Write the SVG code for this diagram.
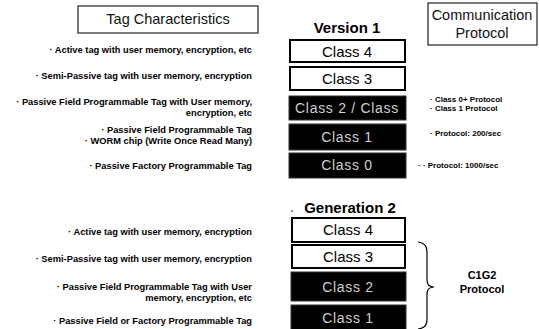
<svg xmlns="http://www.w3.org/2000/svg" width="539" height="329" viewBox="0 0 539 329">
  <style>
    .hdr { font-family: "Liberation Sans", Arial, sans-serif; font-size: 14.5px; fill: #111; text-anchor: middle; }
    .title { font-family: "Liberation Sans", Arial, sans-serif; font-size: 15px; font-weight: bold; fill: #000; text-anchor: middle; }
    .hbox { fill: #fff; stroke: #222; stroke-width: 1.2; }
    .wbox { fill: #fff; stroke: #000; stroke-width: 2; }
    .bbox { fill: #000; stroke: #333; stroke-width: 1; }
    .wtxt { font-family: "Liberation Sans", Arial, sans-serif; font-size: 15px; fill: #000; text-anchor: middle; }
    .btxt { font-family: "Liberation Sans", Arial, sans-serif; font-size: 14px; fill: #cfcfcf; text-anchor: middle; letter-spacing: 0.7px; }
    .desc { font-family: "Liberation Sans", Arial, sans-serif; font-size: 9.3px; font-weight: bold; fill: #000; text-anchor: end; }
    .proto { font-family: "Liberation Sans", Arial, sans-serif; font-size: 8px; font-weight: bold; fill: #000; }
    .c1g2 { font-family: "Liberation Sans", Arial, sans-serif; font-size: 11px; font-weight: bold; fill: #000; text-anchor: middle; }
  </style>

  <rect width="539" height="329" fill="#fff"/>

  <!-- column headers -->
  <g id="hdr-tag">
    <rect class="hbox" x="78" y="6" width="180" height="27"/>
    <text class="hdr" x="168" y="24">Tag Characteristics</text>
  </g>
  <g id="hdr-protocol">
    <rect class="hbox" x="428" y="3" width="109" height="42"/>
    <text class="hdr" x="482" y="20">Communication</text>
    <text class="hdr" x="482" y="38">Protocol</text>
  </g>

  <!-- Version 1 stack -->
  <text class="title" x="347" y="33">Version 1</text>
  <g id="v1-class4">
    <rect class="wbox" x="290" y="40" width="115" height="22"/>
    <text class="wtxt" x="347" y="57">Class 4</text>
    <text class="desc" x="252" y="53">· Active tag with user memory, encryption, etc</text>
  </g>
  <g id="v1-class3">
    <rect class="wbox" x="290" y="67" width="115" height="23"/>
    <text class="wtxt" x="347" y="84">Class 3</text>
    <text class="desc" x="252" y="79">· Semi-Passive tag with user memory, encryption</text>
  </g>
  <g id="v1-class2">
    <rect class="bbox" x="289" y="96" width="117" height="24"/>
    <text class="btxt" x="347" y="113">Class 2 / Class</text>
    <text class="desc" x="252" y="105">· Passive Field Programmable Tag with User memory,</text>
    <text class="desc" x="252" y="116">encryption, etc</text>
    <text class="proto" x="430" y="102">· Class 0+ Protocol</text>
    <text class="proto" x="430" y="111">· Class 1 Protocol</text>
  </g>
  <g id="v1-class1">
    <rect class="bbox" x="289" y="124" width="117" height="26"/>
    <text class="btxt" x="347" y="142">Class 1</text>
    <text class="desc" x="252" y="133">· Passive Field Programmable Tag</text>
    <text class="desc" x="252" y="144">· WORM chip (Write Once Read Many)</text>
    <text class="proto" x="430" y="136">· Protocol: 200/sec</text>
  </g>
  <g id="v1-class0">
    <rect class="bbox" x="289" y="153" width="117" height="25"/>
    <text class="btxt" x="347" y="170">Class 0</text>
    <text class="desc" x="252" y="169">· Passive Factory Programmable Tag</text>
    <text class="proto" x="418" y="168">·   · Protocol: 1000/sec</text>
  </g>

  <!-- Generation 2 stack -->
  <text class="title" x="350" y="213">Generation 2</text>
  <circle cx="292" cy="211" r="0.8" fill="#000"/>
  <g id="g2-class4">
    <rect class="wbox" x="292" y="218" width="113" height="24"/>
    <text class="wtxt" x="348" y="235">Class 4</text>
    <text class="desc" x="252" y="235">· Active tag with user memory, encryption</text>
  </g>
  <g id="g2-class3">
    <rect class="wbox" x="292" y="245" width="113" height="23"/>
    <text class="wtxt" x="348" y="262">Class 3</text>
    <text class="desc" x="252" y="262">· Semi-Passive tag with user memory, encryption</text>
  </g>
  <g id="g2-class2">
    <rect class="bbox" x="291" y="272" width="115" height="29"/>
    <text class="btxt" x="348" y="292">Class 2</text>
    <text class="desc" x="252" y="290">· Passive Field Programmable Tag with User</text>
    <text class="desc" x="252" y="301">memory, encryption, etc</text>
  </g>
  <g id="g2-class1">
    <rect class="bbox" x="291" y="305" width="115" height="26"/>
    <text class="btxt" x="348" y="323">Class 1</text>
    <text class="desc" x="252" y="324">· Passive Field or Factory Programmable Tag</text>
  </g>

  <!-- brace grouping the Generation 2 classes -->
  <g id="connectors">
    <path d="M418,242 Q427,243 427,252 L427,280 Q427,287 434,287 Q427,287 427,294 L427,320 Q427,328 418,329" fill="none" stroke="#000" stroke-width="1.2"/>
  </g>
  <g id="c1g2">
    <text class="c1g2" x="482" y="279">C1G2</text>
    <text class="c1g2" x="482" y="293">Protocol</text>
  </g>
</svg>
